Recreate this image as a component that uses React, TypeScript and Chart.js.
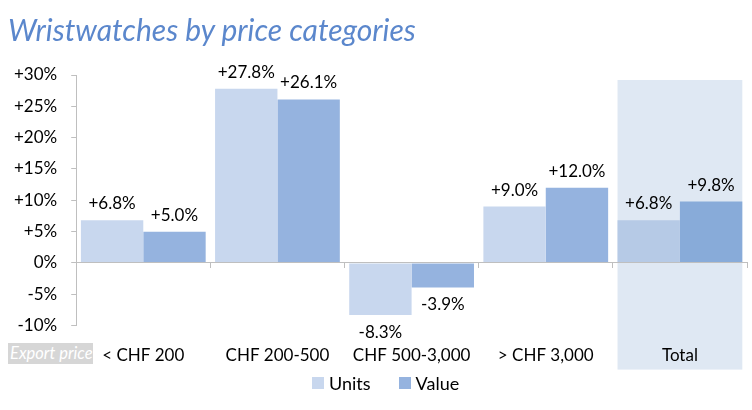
import { useEffect, useRef } from "react";
import { Chart, registerables } from "chart.js";

Chart.register(...registerables);

const categories = ["< CHF 200", "CHF 200-500", "CHF 500-3,000", "> CHF 3,000", "Total"];
const unitsGrowth = [6.8, 27.8, -8.3, 9.0, 6.8];
const valueGrowth = [5.0, 26.1, -3.9, 12.0, 9.8];
const seriesNames = ["Units", "Value"];

const FONT = 'Lato, "DejaVu Sans", sans-serif';
const UNITS_COLOR = "#c8d7ee";
const VALUE_COLOR = "#95b3df";
const UNITS_TOTAL = "#b6cae6";
const VALUE_TOTAL = "#88abd9";
const TOTAL_BG = "#dfe8f3";
const AXIS_GREY = "#bfbfbf";

const fmtPct = (v: number, digits: number) => `${v > 0 ? "+" : ""}${v.toFixed(digits)}%`;

// light panel behind the "Total" group
const totalBackdrop = {
  id: "totalBackdrop",
  beforeDraw(chart: Chart) {
    const last = categories.length - 1;
    const a: any = chart.getDatasetMeta(0).data[last];
    const b: any = chart.getDatasetMeta(1).data[last];
    if (!a || !b) return;
    const { ctx, chartArea } = chart;
    const left = a.x - a.width / 2;
    const right = b.x + b.width / 2;
    ctx.save();
    ctx.fillStyle = TOTAL_BG;
    ctx.fillRect(left, chartArea.top + 5, right - left, chartArea.bottom - chartArea.top + 39);
    ctx.restore();
  },
};

const valueLabels = {
  id: "valueLabels",
  afterDatasetsDraw(chart: Chart) {
    const { ctx } = chart;
    ctx.save();
    ctx.font = `17px ${FONT}`;
    ctx.fillStyle = "#000";
    ctx.textAlign = "center";
    chart.data.datasets.forEach((ds, di) => {
      chart.getDatasetMeta(di).data.forEach((bar: any, i) => {
        const v = ds.data[i] as number;
        if (v >= 0) {
          ctx.textBaseline = "bottom";
          ctx.fillText(fmtPct(v, 1), bar.x, bar.y - 8);
        } else {
          ctx.textBaseline = "top";
          ctx.fillText(fmtPct(v, 1), bar.x, bar.y + 9);
        }
      });
    });
    ctx.restore();
  },
};

export default function App() {
  const canvasRef = useRef<HTMLCanvasElement>(null);

  useEffect(() => {
    let chart: Chart | null = null;
    let cancelled = false;
    const last = categories.length - 1;

    const build = () => {
      const ctx = canvasRef.current?.getContext("2d");
      if (!ctx || cancelled) return;
      chart = new Chart(ctx, {
        type: "bar",
        data: {
          labels: categories,
          datasets: [
            {
              label: seriesNames[0],
              data: unitsGrowth,
              backgroundColor: (c: any) => (c.dataIndex === last ? UNITS_TOTAL : UNITS_COLOR),
              borderWidth: 0,
              categoryPercentage: 0.93,
              barPercentage: 1,
            },
            {
              label: seriesNames[1],
              data: valueGrowth,
              backgroundColor: (c: any) => (c.dataIndex === last ? VALUE_TOTAL : VALUE_COLOR),
              borderWidth: 0,
              categoryPercentage: 0.93,
              barPercentage: 1,
            },
          ],
        },
        options: {
          responsive: true,
          maintainAspectRatio: false,
          animation: false,
          layout: { padding: { left: 0, right: 5, top: 75, bottom: 24 } },
          plugins: {
            legend: { display: false },
            title: { display: false },
            tooltip: { enabled: false },
          },
          scales: {
            x: {
              grid: { display: false, drawTicks: false },
              border: { display: false },
              ticks: { color: "#000", font: { family: FONT, size: 17 }, padding: 20 },
            },
            x2: {
              type: "category",
              position: { y: 0 },
              offset: true,
              grid: { offset: true, drawOnChartArea: false, drawTicks: true, tickLength: 5, color: AXIS_GREY },
              border: { color: AXIS_GREY, z: 1 },
              ticks: { display: false },
            },
            y: {
              min: -10,
              max: 30,
              ticks: {
                stepSize: 5,
                color: "#000",
                font: { family: FONT, size: 17 },
                padding: 14,
                callback: (v: any) => fmtPct(Number(v), 0),
              },
              grid: { drawOnChartArea: false, drawTicks: true, tickLength: 5, color: AXIS_GREY },
              border: { color: AXIS_GREY },
            },
          } as any,
        },
        plugins: [totalBackdrop, valueLabels],
      });
    };

    // measure labels with the real font, not a fallback
    Promise.all([
      document.fonts.load(`17px Lato`),
      document.fonts.load(`italic 17px Lato`),
    ])
      .catch(() => null)
      .then(build);

    return () => {
      cancelled = true;
      chart?.destroy();
      chart = null;
    };
  }, []);

  return (
    <div style={{ position: "absolute", left: 0, top: 0, width: 752, height: 410, background: "#fff", fontFamily: FONT }}>
      <canvas ref={canvasRef} style={{ position: "absolute", left: 0, top: 0 }} />
      <div
        style={{
          position: "absolute",
          left: 8,
          top: 11,
          fontSize: 30,
          lineHeight: 1.2,
          fontStyle: "italic",
          color: "#5b87cc",
          whiteSpace: "nowrap",
        }}
      >
        Wristwatches by price categories
      </div>
      <div
        style={{
          position: "absolute",
          left: 8,
          top: 343,
          width: 85,
          height: 21,
          lineHeight: "21px",
          background: "#d6d6d6",
          color: "#fff",
          fontStyle: "italic",
          fontSize: 16.5,
          paddingLeft: 2,
          boxSizing: "border-box",
          whiteSpace: "nowrap",
          overflow: "hidden",
        }}
      >
        Export price
      </div>
      <div
        style={{
          position: "absolute",
          left: 312,
          top: 372,
          display: "flex",
          alignItems: "center",
          gap: 28,
          fontSize: 18,
          lineHeight: "22px",
          color: "#000",
        }}
      >
        {seriesNames.map((name, i) => (
          <div key={name} style={{ display: "flex", alignItems: "center" }}>
            <span style={{ width: 12, height: 12, background: i === 0 ? UNITS_COLOR : VALUE_COLOR, marginRight: 5 }} />
            <span>{name}</span>
          </div>
        ))}
      </div>
    </div>
  );
}
